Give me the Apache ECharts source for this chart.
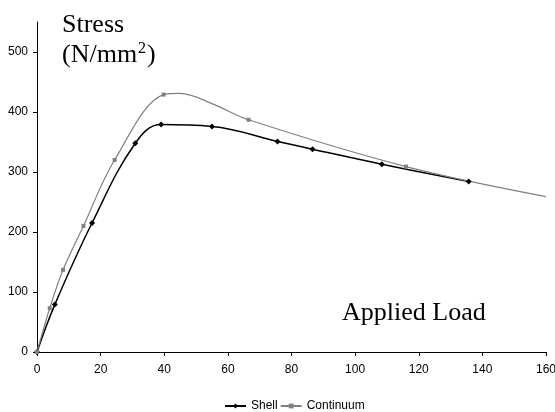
<!DOCTYPE html>
<html style="height: 100%">
    <head>
        <title>Stress - Applied Load</title>
        <meta charset="utf-8">
    </head>
    <body style="height: 100%; margin: 0">
        <div id="container" style="height: 100%"></div>

        <script type="text/javascript" src="https://cdn.jsdelivr.net/npm/echarts@6.0.0/dist/echarts.min.js"></script>
        <script type="text/javascript">
            var dom = document.getElementById("container");
            var myChart = echarts.init(dom);

            // load, stress pairs
            var shellLoad = [0, 5.6, 17.3, 30.9, 39, 55, 75.6, 86.6, 108.4, 135.7];
            var shellStress = [0, 79, 215, 348, 379, 376, 351, 338, 313, 284];
            var contLoad = [0, 4, 8.2, 14.6, 24.4, 39.8, 45, 55, 66.5, 116, 160];
            var contStress = [0, 73, 137, 210, 320, 429, 431, 414, 387, 309, 259];
            // points of the continuum curve that carry a marker
            var contMarked = [true, true, true, true, true, true, false, false, true, true, false];

            var shellData = shellLoad.map(function (x, i) { return [x, shellStress[i]]; });
            var contData = contLoad.map(function (x, i) {
                var d = { value: [x, contStress[i]] };
                if (!contMarked[i]) d.symbol = 'none';
                return d;
            });

            var sans = 'Liberation Sans, Arial, sans-serif';
            var serif = 'Liberation Serif, Times New Roman, serif';

            var option = {
                animation: false,
                grid: { left: 37, right: 9, top: 22, bottom: 60, outerBoundsMode: 'none' },
                xAxis: {
                    type: 'value',
                    min: 0, max: 160, interval: 20,
                    splitLine: { show: false },
                    axisLine: { lineStyle: { color: '#000', width: 1 } },
                    axisTick: { length: 4, lineStyle: { color: '#000' } },
                    axisLabel: { color: '#000', fontSize: 12, fontFamily: sans, margin: 12 }
                },
                yAxis: {
                    type: 'value',
                    min: 0, max: 550, interval: 100,
                    splitLine: { show: false },
                    axisLine: { show: true, lineStyle: { color: '#000', width: 1 } },
                    axisTick: { show: true, length: 4, lineStyle: { color: '#000' } },
                    axisLabel: { color: '#000', fontSize: 12, fontFamily: sans, margin: 9, showMaxLabel: false }
                },
                legend: {
                    bottom: 0,
                    left: 224,
                    padding: 0,
                    itemWidth: 21,
                    itemHeight: 6,
                    itemGap: 2,
                    textStyle: { color: '#000', fontSize: 12, fontFamily: sans },
                    data: ['Shell', 'Continuum']
                },
                series: [{
                    name: 'Shell',
                    type: 'line',
                    smooth: 0.4,
                    data: shellData,
                    symbol: 'diamond',
                    symbolSize: 6,
                    itemStyle: { color: '#000' },
                    lineStyle: { color: '#000', width: 1.5 }
                }, {
                    name: 'Continuum',
                    type: 'line',
                    smooth: 0.35,
                    data: contData,
                    symbol: 'rect',
                    symbolSize: 4,
                    itemStyle: { color: '#808080' },
                    lineStyle: { color: '#808080', width: 1.2 }
                }],
                graphic: [{
                    type: 'text',
                    left: 62, top: 12,
                    style: {
                        text: 'Stress',
                        font: '26px ' + serif,
                        fill: '#000'
                    }
                }, {
                    type: 'text',
                    left: 62, top: 41,
                    style: {
                        text: '(N/mm{sup|2})',
                        font: '26px ' + serif,
                        fill: '#000',
                        rich: {
                            sup: { fontSize: 16, fontFamily: serif, verticalAlign: 'top', padding: [0, 1, 13, 1] }
                        }
                    }
                }, {
                    type: 'text',
                    left: 342, top: 300,
                    style: {
                        text: 'Applied Load',
                        font: '26px ' + serif,
                        fill: '#000'
                    }
                }]
            };

            myChart.setOption(option);
            window.onresize = function () {
                myChart.resize();
            };
        </script>
    </body>
</html>
